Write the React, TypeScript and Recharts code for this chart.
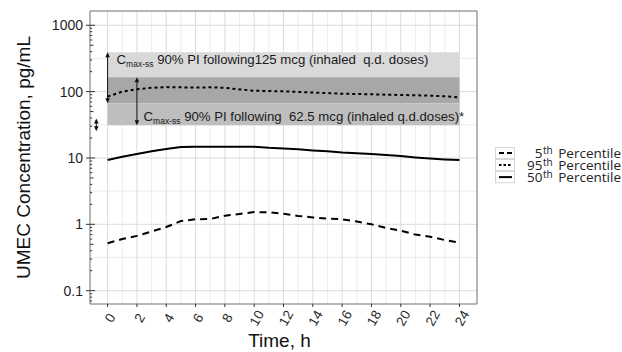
import React from 'react';
import { ComposedChart, Line, XAxis, YAxis, ReferenceArea, ReferenceLine, Legend } from 'recharts';

// ---- data ----
const hours = [0, 1, 2, 3, 4, 5, 6, 7, 8, 9, 10, 11, 12, 13, 14, 15, 16, 17, 18, 19, 20, 21, 22, 23, 24];
const p5 = [0.52, 0.6, 0.67, 0.78, 0.91, 1.12, 1.19, 1.2, 1.35, 1.43, 1.53, 1.52, 1.44, 1.34, 1.27, 1.22, 1.19, 1.1, 1.0, 0.88, 0.8, 0.7, 0.65, 0.58, 0.53];
const p95 = [84, 100, 109, 114, 117, 116, 115, 116, 114, 108, 103, 102, 101, 99, 97, 95, 93, 92, 91, 90, 89, 88, 87, 85, 82];
const p50 = [9.3, 10.4, 11.5, 12.6, 13.7, 14.6, 14.8, 14.8, 14.8, 14.8, 14.7, 14.2, 13.9, 13.5, 13.0, 12.6, 12.1, 11.8, 11.5, 11.1, 10.7, 10.2, 9.8, 9.5, 9.3];

const band125 = [67, 393]; // Cmax-ss 90% PI following 125 mcg
const band62 = [31, 165]; // Cmax-ss 90% PI following 62.5 mcg
const smallArrow = { x: -0.77, lo: 25.3, hi: 39.3 };

const xDomain = [-1.2, 25.2];
const yDomain = [0.063, 1640];
const xTicks = [0, 2, 4, 6, 8, 10, 12, 14, 16, 18, 20, 22, 24];
const xMinor = [1, 3, 5, 7, 9, 11, 13, 15, 17, 19, 21, 23];
const yMajor = [0.1, 1, 10, 100, 1000];
const yMinor = [0.316, 3.16, 31.6, 316];
const logTicks = [
  0.07, 0.08, 0.09,
  0.1, 0.2, 0.3, 0.4, 0.5, 0.6, 0.7, 0.8, 0.9,
  1, 2, 3, 4, 5, 6, 7, 8, 9,
  10, 20, 30, 40, 50, 60, 70, 80, 90,
  100, 200, 300, 400, 500, 600, 700, 800, 900,
  1000,
];

const seriesNames = ['5th Percentile', '95th Percentile', '50th Percentile'];

const data = hours.map((h, i) => ({ h, p5: p5[i], p95: p95[i], p50: p50[i] }));

const FONT = "'Liberation Sans', Arial, sans-serif";

// ---- rendering helpers ----
const YTick = (props: any) => {
  const { x, y, payload } = props;
  const v = payload.value as number;
  const exp = Math.floor(Math.log10(v) + 1e-9);
  const mant = Math.round(v / Math.pow(10, exp));
  const isMajor = yMajor.some((m) => Math.abs(m - v) < 1e-9);
  const len = mant === 1 ? 5 : mant === 5 ? 3.5 : 2.2;
  return (
    <g>
      <line x1={x} x2={x + len} y1={y} y2={y} stroke="#333" strokeWidth={1} />
      {isMajor && <line x1={x - 4} x2={x} y1={y} y2={y} stroke="#333" strokeWidth={1} />}
      {isMajor && (
        <text x={x - 7} y={y} dy="0.36em" textAnchor="end" fontSize={14} fill="#1f1f1f" fontFamily={FONT}>
          {String(v)}
        </text>
      )}
    </g>
  );
};

const XTick = (props: any) => {
  const { x, y, payload } = props;
  return (
    <g>
      <line x1={x} x2={x} y1={y} y2={y + 3} stroke="#333" strokeWidth={1} />
      <text
        transform={`translate(${x + 2.5},${y + 14}) rotate(-60)`}
        textAnchor="middle"
        dy="0.35em"
        fontSize={13.5}
        fill="#2a2a2a"
        fontFamily={FONT}
      >
        {payload.value}
      </text>
    </g>
  );
};

const Arrow = (p: any) => {
  const { x1, y1, y2 } = p;
  const top = Math.min(y1, y2);
  const bot = Math.max(y1, y2);
  const h = 5;
  const w = 2.3;
  return (
    <g>
      <line x1={x1} x2={x1} y1={top + 2} y2={bot - 2} stroke="#111" strokeWidth={1} />
      <polygon points={`${x1},${top} ${x1 - w},${top + h} ${x1 + w},${top + h}`} fill="#111" />
      <polygon points={`${x1},${bot} ${x1 - w},${bot - h} ${x1 + w},${bot - h}`} fill="#111" />
    </g>
  );
};

const BandText = ({ x, y, rest }: { x: number; y: number; rest: string }) => (
  <text x={x} y={y} fontFamily={FONT} fontSize={13.2} fill="#1a1a1a" style={{ whiteSpace: 'pre' }}>
    <tspan>C</tspan>
    <tspan fontSize={8.5} dy={3}>max-ss</tspan>
    <tspan dy={-3}>{rest}</tspan>
  </text>
);

const keyDash: Record<string, string | undefined> = {
  '5th Percentile': '5 3',
  '95th Percentile': '2.5 2',
  '50th Percentile': undefined,
};

const LegendContent = (props: any) => {
  const payload = (props.payload || [])
    .filter((e: any) => seriesNames.includes(e.value))
    .sort((a: any, b: any) => seriesNames.indexOf(a.value) - seriesNames.indexOf(b.value));
  return (
    <div style={{ fontFamily: "'Open Sans', Lato, sans-serif", fontSize: 13.5, color: '#222' }}>
      {payload.map((e: any) => {
        const m = /^(\d+)(th)(.*)$/.exec(e.value) || ['', e.value, '', ''];
        return (
          <div key={e.value} style={{ display: 'flex', alignItems: 'center', height: 12.2 }}>
            <svg width={20} height={12.2} style={{ display: 'block' }}>
              <rect x={0.5} y={0.5} width={19} height={11.2} fill="#fff" stroke="#d6d6d6" />
              <line x1={4} x2={17} y1={6.1} y2={6.1} stroke="#000" strokeWidth={2} strokeDasharray={keyDash[e.value]} />
            </svg>
            <span style={{ flex: 1, textAlign: 'right', lineHeight: '12px', whiteSpace: 'pre' }}>
              {m[1]}
              <span style={{ fontSize: 10, position: 'relative', top: -4, marginLeft: 0.5, marginRight: 2 }}>{m[2]}</span>
              {m[3]}
            </span>
          </div>
        );
      })}
    </div>
  );
};

export default function App() {
  const lightBand = [band62[1], band125[1]];
  const darkBand = [band125[0], band62[1]];
  const midBand = [band62[0], band125[0]];
  return (
    <div style={{ position: 'absolute', left: 0, top: 0, width: 622, height: 352, background: '#fff' }}>
      <ComposedChart
        width={622}
        height={352}
        data={data}
        margin={{ top: 11, right: 145, bottom: 0, left: 0 }}
        style={{ fontFamily: FONT }}
      >
        {xMinor.map((v) => (
          <ReferenceLine key={'xm' + v} x={v} stroke="#ececec" strokeWidth={1} zIndex={-100} />
        ))}
        {yMinor.map((v) => (
          <ReferenceLine key={'ym' + v} y={v} stroke="#ececec" strokeWidth={1} zIndex={-100} />
        ))}
        {xTicks.map((v) => (
          <ReferenceLine key={'xM' + v} x={v} stroke="#dcdcdc" strokeWidth={1} zIndex={-90} />
        ))}
        {yMajor.map((v) => (
          <ReferenceLine key={'yM' + v} y={v} stroke="#dcdcdc" strokeWidth={1} zIndex={-90} />
        ))}
        <XAxis
          dataKey="h"
          type="number"
          domain={xDomain}
          allowDataOverflow
          ticks={xTicks}
          interval={0}
          tickLine={false}
          tickSize={0}
          tickMargin={0}
          axisLine={false}
          height={48}
          tick={<XTick />}
          label={{
            content: (p: any) => {
              const vb = p.viewBox;
              return (
                <text x={vb.x + vb.width / 2 - 4} y={vb.y + 43} textAnchor="middle" fontSize={19} fill="#111" fontFamily={FONT}>
                  Time, h
                </text>
              );
            },
          }}
        />
        <YAxis
          scale="log"
          type="number"
          domain={yDomain}
          allowDataOverflow
          ticks={logTicks}
          interval={0}
          tickLine={false}
          tickSize={0}
          tickMargin={0}
          axisLine={false}
          width={90}
          tick={<YTick />}
          label={{
            content: (p: any) => {
              const vb = p.viewBox;
              const cx = vb.x + 23;
              const cy = vb.y + vb.height / 2;
              return (
                <text
                  transform={`translate(${cx},${cy}) rotate(-90)`}
                  textAnchor="middle"
                  dy="0.35em"
                  fontSize={19}
                  fill="#111"
                  fontFamily={FONT}
                >
                  UMEC Concentration, pg/mL
                </text>
              );
            },
          }}
        />
        <ReferenceArea
          x1={0}
          x2={24}
          y1={lightBand[0]}
          y2={lightBand[1]}
          fill="#d9d9d9"
          fillOpacity={1}
          stroke="none"
          label={{
            content: (p: any) => (
              <BandText x={p.viewBox.x + 9} y={p.viewBox.y + 12} rest={' 90% PI following125 mcg (inhaled  q.d. doses)'} />
            ),
          }}
        />
        <ReferenceArea x1={0} x2={24} y1={darkBand[0]} y2={darkBand[1]} fill="#a7a7a7" fillOpacity={1} stroke="none" />
        <ReferenceArea
          x1={0}
          x2={24}
          y1={midBand[0]}
          y2={midBand[1]}
          fill="#bebebe"
          fillOpacity={1}
          stroke="none"
          label={{
            content: (p: any) => (
              <BandText
                x={p.viewBox.x + 36}
                y={p.viewBox.y + p.viewBox.height - 4}
                rest={' 90% PI following  62.5 mcg (inhaled q.d.doses)*'}
              />
            ),
          }}
        />
        <Line
          type="linear"
          dataKey="p5"
          name={seriesNames[0]}
          stroke="#000"
          strokeWidth={2}
          strokeDasharray="7 5"
          dot={false}
          activeDot={false}
          isAnimationActive={false}
        />
        <Line
          type="linear"
          dataKey="p95"
          name={seriesNames[1]}
          stroke="#000"
          strokeWidth={2}
          strokeDasharray="3 3"
          dot={false}
          activeDot={false}
          isAnimationActive={false}
        />
        <Line
          type="linear"
          dataKey="p50"
          name={seriesNames[2]}
          stroke="#000"
          strokeWidth={2}
          dot={false}
          activeDot={false}
          isAnimationActive={false}
        />
        <ReferenceLine segment={[{ x: 0, y: band125[0] }, { x: 0, y: band125[1] }]} shape={Arrow} />
        <ReferenceLine segment={[{ x: 2, y: band62[0] }, { x: 2, y: band62[1] }]} shape={Arrow} />
        <ReferenceLine segment={[{ x: smallArrow.x, y: smallArrow.lo }, { x: smallArrow.x, y: smallArrow.hi }]} shape={Arrow} />
        <ReferenceArea
          x1={xDomain[0]}
          x2={xDomain[1]}
          y1={yDomain[0]}
          y2={yDomain[1]}
          fill="none"
          fillOpacity={0}
          stroke="#6f6f6f"
          strokeWidth={1}
          ifOverflow="visible"
          zIndex={600}
        />
        <Legend
          layout="vertical"
          align="center"
          verticalAlign="middle"
          content={<LegendContent />}
          wrapperStyle={{ position: 'absolute', left: 495, top: 147, width: 126, height: 'auto' }}
        />
      </ComposedChart>
    </div>
  );
}
